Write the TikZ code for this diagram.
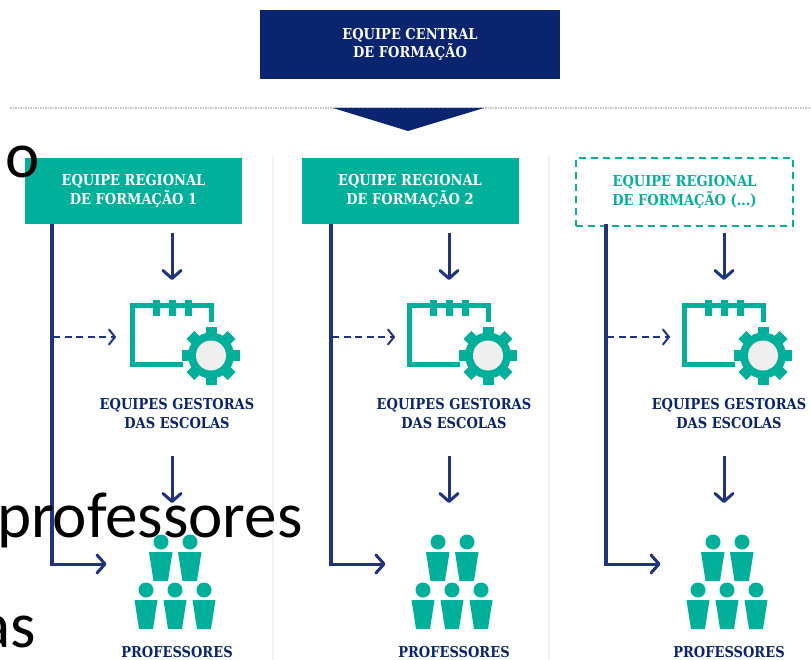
\documentclass[tikz,border=0pt]{standalone}
\usepackage{fontspec}
\setmainfont[FakeStretch=0.87]{DejaVu Serif}
\newfontfamily\overlayfont{Carlito}
\usetikzlibrary{arrows.meta}
\definecolor{navy}{HTML}{0A2470}
\definecolor{arrowblue}{HTML}{1F3380}
\definecolor{teal2}{HTML}{00B09A}
\definecolor{hub}{HTML}{EFEFEF}
\tikzset{
  x=1pt,y=-1pt,
  lbl/.style={font=\bfseries\fontsize{15}{18.5}\selectfont,align=center,inner sep=0pt},
  centralbox/.style={fill=navy,text=white,lbl,minimum width=300pt,minimum height=69pt},
  regionbox/.style={fill=teal2,text=white,lbl,minimum width=217pt,minimum height=66pt},
  dashbox/.style={draw=teal2,line width=2.2pt,dash pattern=on 7pt off 5pt,text=teal2,lbl,minimum width=217pt,minimum height=68pt},
  caption/.style={lbl,text=navy},
  flow/.style={draw=arrowblue,line width=3pt,-{Straight Barb[length=8pt,width=18pt,line width=3pt,round]}},
  dashflow/.style={draw=arrowblue,line width=2pt,dash pattern=on 7pt off 4.5pt,-{Straight Barb[length=6pt,width=15pt,line width=2pt,round]}},
  tree/.style={draw=arrowblue,line width=3.4pt},
  overlay/.style={font=\overlayfont\fontsize{65}{65}\selectfont,text=black,inner sep=0pt},
}
\newcommand{\column}[3]{%
  % #1 icon offset, #2 trunk x, #3 name
  \begin{scope}[shift={(#1,0)}]
    \coordinate (#3a1) at (172,233);
    \coordinate (#3a2) at (172,280);
    \coordinate (#3b1) at (172,456);
    \coordinate (#3b2) at (172,503);
    \draw[teal2,line width=5pt] (211.5,322) -- (211.5,305.5) -- (132.5,305.5) -- (132.5,364.5) -- (183,364.5);
    \foreach \tx in {156,172,188} \fill[teal2] (\tx-3.5,300) rectangle (\tx+3.5,316);
    \foreach \ang in {0,45,...,315}
      \fill[teal2,rotate around={\ang:(211,355.5)}] (205.5,326.5) rectangle (216.5,340);
    \fill[teal2] (211,355.5) circle[radius=23];
    \fill[hub] (211,355.5) circle[radius=15];
    \foreach \hx in {161,190} {
      \fill[teal2] (\hx,542) circle[radius=7.5];
      \fill[teal2] (\hx-12,552) -- (\hx+11.5,552) -- (\hx+7,581) -- (\hx-7.5,581) -- cycle;
    }
    \foreach \hx in {146,175,204} {
      \fill[teal2] (\hx,590) circle[radius=7.5];
      \fill[teal2] (\hx-11.5,600) -- (\hx+11.5,600) -- (\hx+7,629) -- (\hx-7,629) -- cycle;
    }
    \node[caption] (#3mgr) at (177,413.5) {EQUIPES GESTORAS\\DAS ESCOLAS};
    \node[caption] (#3prof) at (177,652) {PROFESSORES};
    \path[flow] (#3a1) -- (#3a2);
    \path[flow] (#3b1) -- (#3b2);
  \end{scope}
  \coordinate (#3t0) at (#2,224);
  \coordinate (#3t1) at (#2,564);
  \coordinate (#3t2) at (#2+54.5,564);
  \coordinate (#3d0) at (#2+1,337);
  \coordinate (#3d1) at (#2+64,337);
  \draw[tree] (#3t0) -- (#3t1);
  \path[flow] (#3t1) ++(-1.7,0) -- (#3t2);
  \path[dashflow] (#3d0) -- (#3d1);
}
\begin{document}
\begin{tikzpicture}
\useasboundingbox (0,0) rectangle (811,660);
\clip (0,0) rectangle (811,660);
\fill[white] (0,0) rectangle (811,660);
% separators
\coordinate (s1a) at (273,155); \coordinate (s1b) at (273,660);
\coordinate (s2a) at (549,155); \coordinate (s2b) at (549,660);
\draw[black!5,line width=1.2pt] (s1a) -- (s1b);
\draw[black!5,line width=1.2pt] (s2a) -- (s2b);
% top
\coordinate (dl) at (10,108); \coordinate (dr) at (811,108);
\draw[black!22,line width=1.5pt,dash pattern=on 1.5pt off 1pt] (dl) -- (dr);
\node[centralbox] (central) at (410,44.5) {EQUIPE CENTRAL\\DE FORMAÇÃO};
\fill[navy] (333,108) -- (484,108) -- (408,131) -- cycle;
% regional boxes
\node[regionbox] (r1) at (133.5,191) {EQUIPE REGIONAL\\DE FORMAÇÃO 1};
\node[regionbox] (r2) at (410,191) {EQUIPE REGIONAL\\DE FORMAÇÃO 2};
\node[dashbox]   (r3) at (684.5,192) {EQUIPE REGIONAL\\DE FORMAÇÃO (...)};
% columns
\column{0}{52}{c}
\column{277}{331}{d}
\column{552}{606}{e}
% overlaid slide text
\node[overlay,anchor=base west] (t1) at (5,178) {o};
\node[overlay,anchor=base west] (t2) at (-3,537) {professores};
\node[overlay,anchor=base east] (t3) at (36,647) {as};
\end{tikzpicture}
\end{document}
